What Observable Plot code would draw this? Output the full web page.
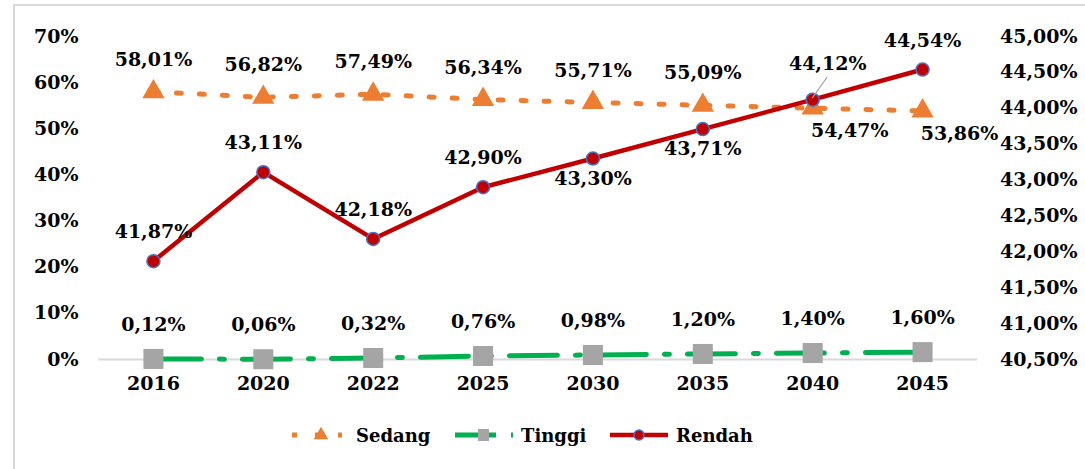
<!DOCTYPE html>
<html>
<head>
<meta charset="utf-8">
<script src="https://cdn.jsdelivr.net/npm/d3@7"></script>
<script src="https://cdn.jsdelivr.net/npm/@observablehq/plot@0.6"></script>
<style>
  html, body { margin: 0; padding: 0; background: #fff; width: 1085px; height: 469px; overflow: hidden; }
  body { position: relative; font-family: "DejaVu Serif", serif; }
  #frame { position: absolute; left: 13px; top: 4px; width: 1200px; height: 600px; border-left: 2px solid #d9d9d9; border-top: 2px solid #d9d9d9; }
  #chart { position: absolute; left: 0; top: 0; }
  #legend { position: absolute; left: 0; top: 423px; width: 1085px; height: 24px; }
  .item { position: absolute; top: 0; display: flex; align-items: center; height: 24px; font-weight: bold; font-size: 18px; color: #000; }
</style>
</head>
<body>
<div id="frame"></div>
<div id="chart"></div>
<div id="legend"></div>
<script>
const years = ["2016", "2020", "2022", "2025", "2030", "2035", "2040", "2045"];
const sedang = [58.01, 56.82, 57.49, 56.34, 55.71, 55.09, 54.47, 53.86];
const tinggi = [0.12, 0.06, 0.32, 0.76, 0.98, 1.20, 1.40, 1.60];
const rendah = [41.87, 43.11, 42.18, 42.90, 43.30, 43.71, 44.12, 44.54];
const leftTicks = [0, 10, 20, 30, 40, 50, 60, 70];
const rightTicks = [40.5, 41.0, 41.5, 42.0, 42.5, 43.0, 43.5, 44.0, 44.5, 45.0];
const seriesNames = ["Sedang", "Tinggi", "Rendah"];

const C_SEDANG = "#ED7D31", C_TINGGI = "#00B050", C_RENDAH = "#C00000", C_EDGE = "#4472C4", C_SQ = "#A5A5A5";

// secondary (right) axis mapped onto the left scale
const r2l = d3.scaleLinear([40.5, 45], [0, 70]);
const fmt = v => d3.format(".2f")(v).replace(".", ",") + "%";

const rows = years.map((year, i) => ({
  year, sedang: sedang[i], tinggi: tinggi[i], rendahRaw: rendah[i], rendah: r2l(rendah[i])
}));

const txt = {fontWeight: "bold", fontSize: 19, fill: "#000"};

const plot = Plot.plot({
  width: 1085, height: 400,
  marginLeft: 98, marginRight: 108, marginTop: 36, marginBottom: 41,
  style: {fontFamily: "DejaVu Serif", fontSize: "19px", background: "transparent", overflow: "visible"},
  x: {type: "point", domain: years, padding: 0.5, round: false, label: null},
  y: {domain: [0, 70], label: null},
  marks: [
    Plot.ruleY([0], {stroke: "#d9d9d9", strokeWidth: 2}),
    Plot.axisY(leftTicks, {anchor: "left", tickSize: 0, tickPadding: 20, tickFormat: d => d + "%", label: null, ...txt}),
    Plot.axisY(rightTicks.map(r2l), {anchor: "right", tickSize: 0, tickPadding: 0, textAnchor: "end", dx: 100, tickFormat: d => fmt(r2l.invert(d)), label: null, ...txt}),
    Plot.axisX({tickSize: 0, tickPadding: 17, label: null, ...txt}),
    // Tinggi
    Plot.line(rows, {x: "year", y: "tinggi", stroke: C_TINGGI, strokeWidth: 5, strokeDasharray: "48,18,5,18"}),
    Plot.dot(rows, {x: "year", y: "tinggi", symbol: "square", r: 11.3, fill: C_SQ}),
    // Sedang
    Plot.line(rows, {x: "year", y: "sedang", stroke: C_SEDANG, strokeWidth: 5, strokeDasharray: "5,18"}),
    Plot.dot(rows, {x: "year", y: "sedang", symbol: "triangle", r: 8.3, fill: C_SEDANG}),
    // Rendah
    Plot.line(rows, {x: "year", y: "rendah", stroke: C_RENDAH, strokeWidth: 4.5}),
    Plot.dot(rows, {x: "year", y: "rendah", r: 6.5, fill: C_RENDAH, stroke: C_EDGE, strokeWidth: 1.5}),
    // labels
    Plot.text(rows, {filter: (d, i) => i < 6, x: "year", y: "sedang", text: d => fmt(d.sedang), dy: -32, ...txt}),
    Plot.text(rows, {filter: (d, i) => i >= 6, x: "year", y: "sedang", text: d => fmt(d.sedang), dx: 37, dy: 23, ...txt}),
    Plot.text(rows, {x: "year", y: "tinggi", text: d => fmt(d.tinggi), dy: -34, ...txt}),
    Plot.text(rows, {filter: (d, i) => i < 4 || i === 7, x: "year", y: "rendah", text: d => fmt(d.rendahRaw), dy: -29, ...txt}),
    Plot.text(rows, {filter: (d, i) => i === 4 || i === 5, x: "year", y: "rendah", text: d => fmt(d.rendahRaw), dy: 20, ...txt}),
    Plot.text(rows, {filter: (d, i) => i === 6, x: "year", y: "rendah", text: d => fmt(d.rendahRaw), dx: 15, dy: -36, ...txt})
  ]
});
document.getElementById("chart").appendChild(plot);

// leader line for the 2040 Rendah label
const sx = plot.scale("x"), sy = plot.scale("y");
const lx = sx.apply("2040"), ly = sy.apply(r2l(rendah[6]));
d3.select(plot).append("line")
  .attr("x1", lx).attr("y1", ly - 1).attr("x2", lx + 15).attr("y2", ly - 22)
  .attr("stroke", "#a6a6a6").attr("stroke-width", 1.2);

// legend
const legend = d3.select("#legend");
const items = [
  {name: seriesNames[0], left: 288, draw: g => {
    g.append("line").attr("x1", 4).attr("x2", 54).attr("y1", 12).attr("y2", 12)
      .attr("stroke", C_SEDANG).attr("stroke-width", 5).attr("stroke-dasharray", "5,18");
    g.append("path").attr("d", d3.symbol(d3.symbolTriangle, 90)()).attr("transform", "translate(33,12)").attr("fill", C_SEDANG);
  }},
  {name: seriesNames[1], left: 453, draw: g => {
    g.append("line").attr("x1", 2).attr("x2", 60).attr("y1", 12).attr("y2", 12)
      .attr("stroke", C_TINGGI).attr("stroke-width", 5).attr("stroke-dasharray", "41,15,3,20");
    g.append("rect").attr("x", 25).attr("y", 6).attr("width", 11).attr("height", 12).attr("fill", C_SQ);
  }},
  {name: seriesNames[2], left: 608, draw: g => {
    g.append("line").attr("x1", 2).attr("x2", 60).attr("y1", 12).attr("y2", 12)
      .attr("stroke", C_RENDAH).attr("stroke-width", 4.5);
    g.append("circle").attr("cx", 31).attr("cy", 12).attr("r", 5).attr("fill", C_RENDAH).attr("stroke", C_EDGE).attr("stroke-width", 1.5);
  }}
];
items.forEach(it => {
  const div = legend.append("div").attr("class", "item").style("left", it.left + "px");
  const svg = div.append("svg").attr("width", 64).attr("height", 24);
  it.draw(svg);
  div.append("span").style("margin-left", "4px").text(it.name);
});
</script>
</body>
</html>
